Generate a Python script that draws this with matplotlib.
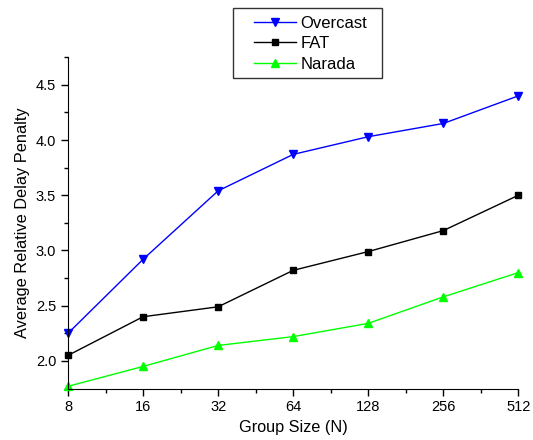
import numpy as np
import matplotlib
matplotlib.use('Agg')
import matplotlib.pyplot as plt
from matplotlib.patches import Rectangle
from matplotlib.ticker import FixedLocator, MultipleLocator, NullFormatter

plt.rcParams['font.family'] = ['Liberation Sans', 'DejaVu Sans']

group_sizes = [8, 16, 32, 64, 128, 256, 512]
overcast = [2.25, 2.92, 3.54, 3.87, 4.03, 4.15, 4.40]
fat = [2.05, 2.40, 2.49, 2.82, 2.99, 3.18, 3.50]
narada = [1.77, 1.95, 2.14, 2.22, 2.34, 2.58, 2.80]

W, H = 533, 440
fig = plt.figure(figsize=(W / 100, H / 100), dpi=100)
ax = fig.add_axes([0.1276, 0.117, 0.845, 0.753])

ax.plot(group_sizes, overcast, color='#0000ff', marker='v', markersize=6, lw=1, label='Overcast', clip_on=False)
ax.plot(group_sizes, fat, color='black', marker='s', markersize=5, lw=1, label='FAT', clip_on=False)
ax.plot(group_sizes, narada, color='#00ff00', marker='^', markersize=6, lw=1, label='Narada', clip_on=False)

ax.set_xscale('log', base=2)
ax.set_xlim(8, 512)
ax.set_ylim(1.75, 4.75)
ax.xaxis.set_major_locator(FixedLocator(group_sizes))
ax.xaxis.set_minor_locator(FixedLocator([g * np.sqrt(2) for g in group_sizes[:-1]]))
ax.xaxis.set_major_formatter(plt.FuncFormatter(lambda v, p: '%d' % v))
ax.xaxis.set_minor_formatter(NullFormatter())
ax.yaxis.set_major_locator(MultipleLocator(0.5))
ax.yaxis.set_minor_locator(MultipleLocator(0.25))
ax.yaxis.set_major_formatter(plt.FuncFormatter(lambda v, p: '%.1f' % v))

for s in ['top', 'right']:
    ax.spines[s].set_visible(False)
ax.tick_params(which='major', direction='out', length=5, width=1, labelsize=10.5)
ax.tick_params(which='minor', direction='out', length=3, width=1)

ax.set_xlabel('Group Size (N)', fontsize=11.7)
ax.set_ylabel('Average Relative Delay Penalty', fontsize=11.8)

# legend entries without matplotlib's frame; the box is drawn separately
leg = fig.legend(loc='upper left', bbox_to_anchor=(254 / W, 1 - 16 / H), frameon=False,
                 fontsize=12, handlelength=2.5, handletextpad=0.3, borderpad=0,
                 labelspacing=0.32, borderaxespad=0)
fig.patches.append(Rectangle((233 / W, 1 - 78 / H), 149 / W, 70 / H, transform=fig.transFigure,
                             fill=False, edgecolor='#333333', lw=1))

fig.savefig('out.png', dpi=100)
